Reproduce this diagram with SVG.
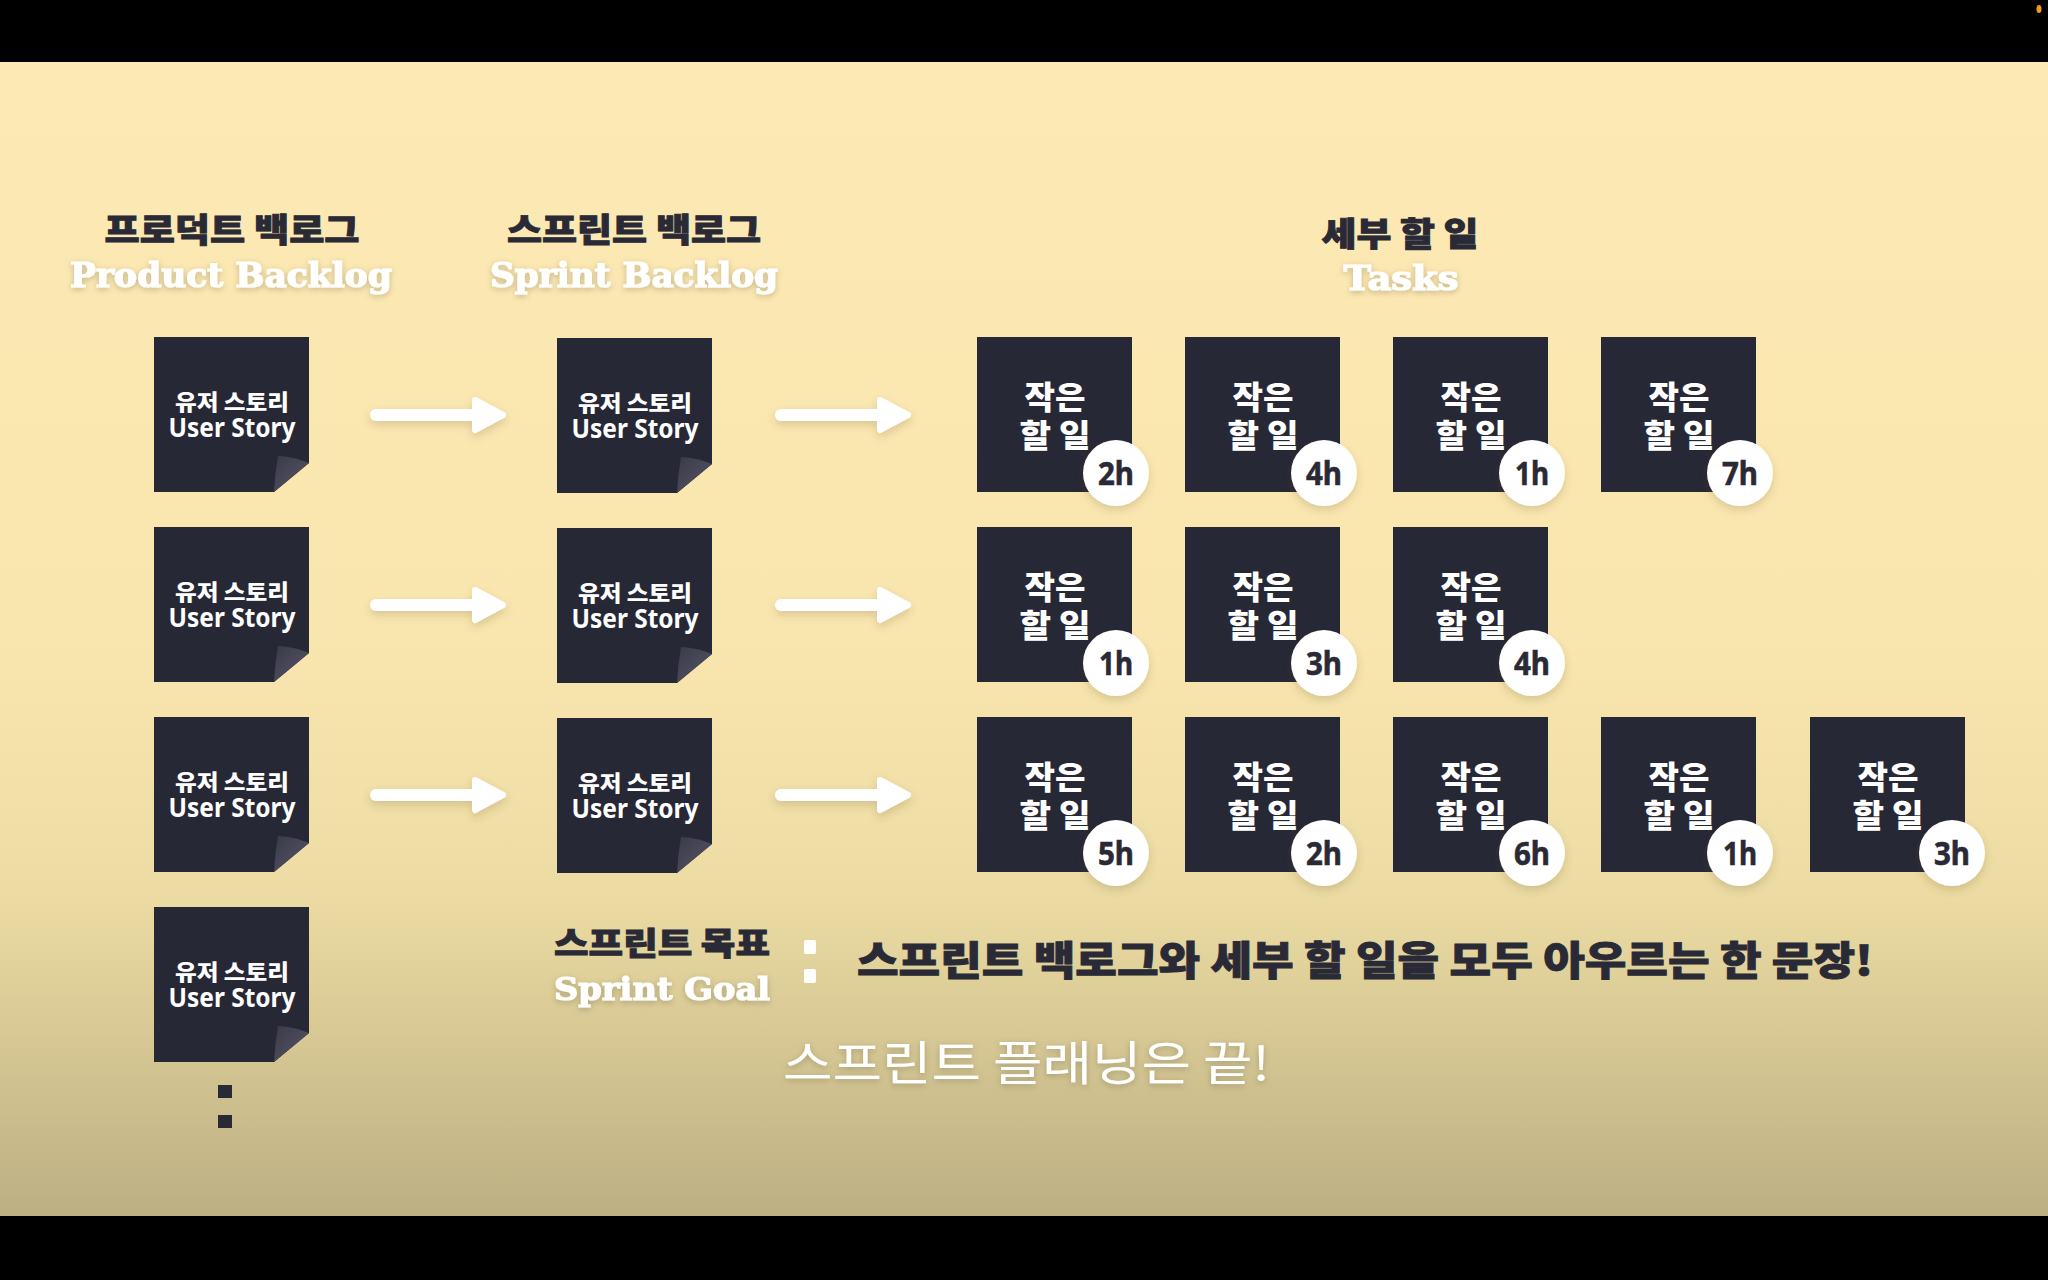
<svg xmlns="http://www.w3.org/2000/svg" xmlns:xlink="http://www.w3.org/1999/xlink" width="2048" height="1280" viewBox="0 0 2048 1280">
<defs>
  <linearGradient id="bg" x1="0" y1="62" x2="0" y2="1216" gradientUnits="userSpaceOnUse">
    <stop offset="0" stop-color="#fde9b3"/>
    <stop offset="0.5" stop-color="#f9e6af"/>
    <stop offset="0.72" stop-color="#ecdca3"/>
    <stop offset="1" stop-color="#bcaf82"/>
  </linearGradient>
  <linearGradient id="flap" x1="0" y1="0" x2="1" y2="1">
    <stop offset="0" stop-color="#3a3a48"/>
    <stop offset="1" stop-color="#57566a"/>
  </linearGradient>
  <filter id="tsh" x="-20%" y="-50%" width="140%" height="200%">
    <feDropShadow dx="0" dy="2" stdDeviation="3" flood-color="#000" flood-opacity="0.22"/>
  </filter>
  <filter id="soft" x="-30%" y="-50%" width="160%" height="200%">
    <feDropShadow dx="0" dy="4" stdDeviation="4" flood-color="#5a4a20" flood-opacity="0.2"/>
  </filter>
  <marker id="ah" markerUnits="userSpaceOnUse" markerWidth="40" markerHeight="40" refX="2" refY="15" orient="auto" overflow="visible">
    <path d="M0,0 L28,15 L0,30 Z" fill="#fff" stroke="#fff" stroke-width="6" stroke-linejoin="round"/>
  </marker>
  <path id="story" d="M0,0 H155 V126 L120,155 H0 Z"/>
  <path id="fold" d="M124,119 Q141,120 155,126 L120,155 Q121,136 124,119 Z"/>
  <style>
    .card{fill:#272836}
    .fold{fill:url(#flap)}
    .ko{font-family:"Noto Sans CJK KR","Noto Sans",sans-serif;font-weight:900}
    .en{font-family:"Noto Sans","Liberation Sans",sans-serif;font-weight:700}
    .slab{font-family:"DejaVu Serif","Liberation Serif",serif;font-weight:700;fill:#fff;stroke:#fff;stroke-width:1.2}
    .w{fill:#fff}
    .d{fill:#292a36}
    .hd{stroke:#292a36;stroke-width:0.9}
    .mid{text-anchor:middle}
    .badge{fill:#fff}
    .bt{font-family:"Noto Sans","Liberation Sans",sans-serif;font-weight:700;font-size:32px;fill:#292a36;stroke:#292a36;stroke-width:0.6;text-anchor:middle}
    .conn line{stroke:#fff;stroke-width:12;stroke-linecap:round;marker-end:url(#ah)}
  </style>
</defs>

<rect x="0" y="0" width="2048" height="1280" fill="#000"/>
<rect x="0" y="62" width="2048" height="1154" fill="url(#bg)"/>
<ellipse cx="2039" cy="9" rx="2.5" ry="4" fill="#f29a1a"/>

<!-- Column headers -->
<g id="hdr-product">
  <text class="ko d hd mid" x="232" y="242" font-size="33" textLength="255" lengthAdjust="spacingAndGlyphs">프로덕트 백로그</text>
  <text class="slab mid" x="231" y="287" font-size="34" textLength="322" lengthAdjust="spacingAndGlyphs" filter="url(#tsh)">Product Backlog</text>
</g>
<g id="hdr-sprint">
  <text class="ko d hd mid" x="634" y="242" font-size="33" textLength="254" lengthAdjust="spacingAndGlyphs">스프린트 백로그</text>
  <text class="slab mid" x="634" y="287" font-size="34" textLength="288" lengthAdjust="spacingAndGlyphs" filter="url(#tsh)">Sprint Backlog</text>
</g>
<g id="hdr-tasks">
  <text class="ko d hd mid" x="1400" y="246" font-size="33" textLength="157" lengthAdjust="spacingAndGlyphs">세부 할 일</text>
  <text class="slab mid" x="1401" y="290" font-size="34" textLength="115" lengthAdjust="spacingAndGlyphs" filter="url(#tsh)">Tasks</text>
</g>

<!-- Product backlog -->
<g id="pb1" transform="translate(154,337)">
  <use href="#story" class="card"/><use href="#fold" class="fold"/>
  <text class="ko w mid" x="78" y="73" font-size="22" textLength="114" lengthAdjust="spacingAndGlyphs">유저 스토리</text>
  <text class="en w mid" x="78" y="100" font-size="27" textLength="127" lengthAdjust="spacingAndGlyphs">User Story</text>
</g>
<g id="pb2" transform="translate(154,527)">
  <use href="#story" class="card"/><use href="#fold" class="fold"/>
  <text class="ko w mid" x="78" y="73" font-size="22" textLength="114" lengthAdjust="spacingAndGlyphs">유저 스토리</text>
  <text class="en w mid" x="78" y="100" font-size="27" textLength="127" lengthAdjust="spacingAndGlyphs">User Story</text>
</g>
<g id="pb3" transform="translate(154,717)">
  <use href="#story" class="card"/><use href="#fold" class="fold"/>
  <text class="ko w mid" x="78" y="73" font-size="22" textLength="114" lengthAdjust="spacingAndGlyphs">유저 스토리</text>
  <text class="en w mid" x="78" y="100" font-size="27" textLength="127" lengthAdjust="spacingAndGlyphs">User Story</text>
</g>
<g id="pb4" transform="translate(154,907)">
  <use href="#story" class="card"/><use href="#fold" class="fold"/>
  <text class="ko w mid" x="78" y="73" font-size="22" textLength="114" lengthAdjust="spacingAndGlyphs">유저 스토리</text>
  <text class="en w mid" x="78" y="100" font-size="27" textLength="127" lengthAdjust="spacingAndGlyphs">User Story</text>
</g>
<g id="pb-more">
  <rect x="218" y="1085" width="14" height="13" class="d"/>
  <rect x="218" y="1115" width="14" height="13" class="d"/>
</g>

<!-- Sprint backlog -->
<g id="sb1" transform="translate(557,338)">
  <use href="#story" class="card"/><use href="#fold" class="fold"/>
  <text class="ko w mid" x="78" y="73" font-size="22" textLength="114" lengthAdjust="spacingAndGlyphs">유저 스토리</text>
  <text class="en w mid" x="78" y="100" font-size="27" textLength="127" lengthAdjust="spacingAndGlyphs">User Story</text>
</g>
<g id="sb2" transform="translate(557,528)">
  <use href="#story" class="card"/><use href="#fold" class="fold"/>
  <text class="ko w mid" x="78" y="73" font-size="22" textLength="114" lengthAdjust="spacingAndGlyphs">유저 스토리</text>
  <text class="en w mid" x="78" y="100" font-size="27" textLength="127" lengthAdjust="spacingAndGlyphs">User Story</text>
</g>
<g id="sb3" transform="translate(557,718)">
  <use href="#story" class="card"/><use href="#fold" class="fold"/>
  <text class="ko w mid" x="78" y="73" font-size="22" textLength="114" lengthAdjust="spacingAndGlyphs">유저 스토리</text>
  <text class="en w mid" x="78" y="100" font-size="27" textLength="127" lengthAdjust="spacingAndGlyphs">User Story</text>
</g>

<!-- Connectors -->
<g id="connectors" class="conn" filter="url(#soft)">
  <line x1="376" y1="415" x2="477" y2="415"/>
  <line x1="781" y1="415" x2="882" y2="415"/>
  <line x1="376" y1="605" x2="477" y2="605"/>
  <line x1="781" y1="605" x2="882" y2="605"/>
  <line x1="376" y1="795" x2="477" y2="795"/>
  <line x1="781" y1="795" x2="882" y2="795"/>
</g>

<!-- Tasks row 1 -->
<g id="t1-1" transform="translate(977,337)">
  <rect width="155" height="155" class="card"/>
  <text class="ko w mid" x="78" y="72" font-size="32" textLength="61" lengthAdjust="spacingAndGlyphs">작은</text>
  <text class="ko w mid" x="78" y="110" font-size="32" textLength="71" lengthAdjust="spacingAndGlyphs">할 일</text>
  <circle cx="139" cy="136" r="33" class="badge" filter="url(#soft)"/>
  <text class="bt" x="139" y="147.5" textLength="36" lengthAdjust="spacingAndGlyphs">2h</text>
</g>
<g id="t1-2" transform="translate(1185,337)">
  <rect width="155" height="155" class="card"/>
  <text class="ko w mid" x="78" y="72" font-size="32" textLength="61" lengthAdjust="spacingAndGlyphs">작은</text>
  <text class="ko w mid" x="78" y="110" font-size="32" textLength="71" lengthAdjust="spacingAndGlyphs">할 일</text>
  <circle cx="139" cy="136" r="33" class="badge" filter="url(#soft)"/>
  <text class="bt" x="139" y="147.5" textLength="36" lengthAdjust="spacingAndGlyphs">4h</text>
</g>
<g id="t1-3" transform="translate(1393,337)">
  <rect width="155" height="155" class="card"/>
  <text class="ko w mid" x="78" y="72" font-size="32" textLength="61" lengthAdjust="spacingAndGlyphs">작은</text>
  <text class="ko w mid" x="78" y="110" font-size="32" textLength="71" lengthAdjust="spacingAndGlyphs">할 일</text>
  <circle cx="139" cy="136" r="33" class="badge" filter="url(#soft)"/>
  <text class="bt" x="139" y="147.5" textLength="34" lengthAdjust="spacingAndGlyphs">1h</text>
</g>
<g id="t1-4" transform="translate(1601,337)">
  <rect width="155" height="155" class="card"/>
  <text class="ko w mid" x="78" y="72" font-size="32" textLength="61" lengthAdjust="spacingAndGlyphs">작은</text>
  <text class="ko w mid" x="78" y="110" font-size="32" textLength="71" lengthAdjust="spacingAndGlyphs">할 일</text>
  <circle cx="139" cy="136" r="33" class="badge" filter="url(#soft)"/>
  <text class="bt" x="139" y="147.5" textLength="36" lengthAdjust="spacingAndGlyphs">7h</text>
</g>

<!-- Tasks row 2 -->
<g id="t2-1" transform="translate(977,527)">
  <rect width="155" height="155" class="card"/>
  <text class="ko w mid" x="78" y="72" font-size="32" textLength="61" lengthAdjust="spacingAndGlyphs">작은</text>
  <text class="ko w mid" x="78" y="110" font-size="32" textLength="71" lengthAdjust="spacingAndGlyphs">할 일</text>
  <circle cx="139" cy="136" r="33" class="badge" filter="url(#soft)"/>
  <text class="bt" x="139" y="147.5" textLength="34" lengthAdjust="spacingAndGlyphs">1h</text>
</g>
<g id="t2-2" transform="translate(1185,527)">
  <rect width="155" height="155" class="card"/>
  <text class="ko w mid" x="78" y="72" font-size="32" textLength="61" lengthAdjust="spacingAndGlyphs">작은</text>
  <text class="ko w mid" x="78" y="110" font-size="32" textLength="71" lengthAdjust="spacingAndGlyphs">할 일</text>
  <circle cx="139" cy="136" r="33" class="badge" filter="url(#soft)"/>
  <text class="bt" x="139" y="147.5" textLength="36" lengthAdjust="spacingAndGlyphs">3h</text>
</g>
<g id="t2-3" transform="translate(1393,527)">
  <rect width="155" height="155" class="card"/>
  <text class="ko w mid" x="78" y="72" font-size="32" textLength="61" lengthAdjust="spacingAndGlyphs">작은</text>
  <text class="ko w mid" x="78" y="110" font-size="32" textLength="71" lengthAdjust="spacingAndGlyphs">할 일</text>
  <circle cx="139" cy="136" r="33" class="badge" filter="url(#soft)"/>
  <text class="bt" x="139" y="147.5" textLength="36" lengthAdjust="spacingAndGlyphs">4h</text>
</g>

<!-- Tasks row 3 -->
<g id="t3-1" transform="translate(977,717)">
  <rect width="155" height="155" class="card"/>
  <text class="ko w mid" x="78" y="72" font-size="32" textLength="61" lengthAdjust="spacingAndGlyphs">작은</text>
  <text class="ko w mid" x="78" y="110" font-size="32" textLength="71" lengthAdjust="spacingAndGlyphs">할 일</text>
  <circle cx="139" cy="136" r="33" class="badge" filter="url(#soft)"/>
  <text class="bt" x="139" y="147.5" textLength="36" lengthAdjust="spacingAndGlyphs">5h</text>
</g>
<g id="t3-2" transform="translate(1185,717)">
  <rect width="155" height="155" class="card"/>
  <text class="ko w mid" x="78" y="72" font-size="32" textLength="61" lengthAdjust="spacingAndGlyphs">작은</text>
  <text class="ko w mid" x="78" y="110" font-size="32" textLength="71" lengthAdjust="spacingAndGlyphs">할 일</text>
  <circle cx="139" cy="136" r="33" class="badge" filter="url(#soft)"/>
  <text class="bt" x="139" y="147.5" textLength="36" lengthAdjust="spacingAndGlyphs">2h</text>
</g>
<g id="t3-3" transform="translate(1393,717)">
  <rect width="155" height="155" class="card"/>
  <text class="ko w mid" x="78" y="72" font-size="32" textLength="61" lengthAdjust="spacingAndGlyphs">작은</text>
  <text class="ko w mid" x="78" y="110" font-size="32" textLength="71" lengthAdjust="spacingAndGlyphs">할 일</text>
  <circle cx="139" cy="136" r="33" class="badge" filter="url(#soft)"/>
  <text class="bt" x="139" y="147.5" textLength="36" lengthAdjust="spacingAndGlyphs">6h</text>
</g>
<g id="t3-4" transform="translate(1601,717)">
  <rect width="155" height="155" class="card"/>
  <text class="ko w mid" x="78" y="72" font-size="32" textLength="61" lengthAdjust="spacingAndGlyphs">작은</text>
  <text class="ko w mid" x="78" y="110" font-size="32" textLength="71" lengthAdjust="spacingAndGlyphs">할 일</text>
  <circle cx="139" cy="136" r="33" class="badge" filter="url(#soft)"/>
  <text class="bt" x="139" y="147.5" textLength="34" lengthAdjust="spacingAndGlyphs">1h</text>
</g>
<g id="t3-5" transform="translate(1810,717)">
  <rect width="155" height="155" class="card"/>
  <text class="ko w mid" x="78" y="72" font-size="32" textLength="61" lengthAdjust="spacingAndGlyphs">작은</text>
  <text class="ko w mid" x="78" y="110" font-size="32" textLength="71" lengthAdjust="spacingAndGlyphs">할 일</text>
  <circle cx="142" cy="136" r="33" class="badge" filter="url(#soft)"/>
  <text class="bt" x="142" y="147.5" textLength="36" lengthAdjust="spacingAndGlyphs">3h</text>
</g>

<!-- Sprint goal -->
<g id="sprint-goal">
  <text class="ko d hd" x="554" y="955" font-size="32" textLength="216" lengthAdjust="spacingAndGlyphs">스프린트 목표</text>
  <text class="slab" x="554" y="1000" font-size="32" textLength="216" lengthAdjust="spacingAndGlyphs" filter="url(#tsh)">Sprint Goal</text>
  <rect x="804" y="940" width="12" height="14" rx="2" fill="#fff"/>
  <rect x="804" y="969" width="12" height="14" rx="2" fill="#fff"/>
  <text class="ko d hd" x="857" y="975" font-size="40" textLength="1016" lengthAdjust="spacingAndGlyphs">스프린트 백로그와 세부 할 일을 모두 아우르는 한 문장!</text>
</g>

<g id="subtitle">
  <text x="783" y="1080" font-family="'Noto Sans CJK KR','Noto Sans',sans-serif" font-weight="400" font-size="47" fill="#fff" textLength="487" lengthAdjust="spacingAndGlyphs" filter="url(#tsh)">스프린트 플래닝은 끝!</text>
</g>
</svg>
